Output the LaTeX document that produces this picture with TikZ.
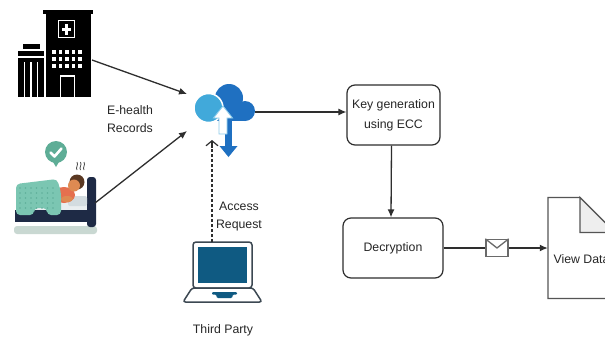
\documentclass[tikz,border=0pt]{standalone}
\usepackage{fontspec}
\setmainfont{Liberation Sans}
\usetikzlibrary{arrows.meta}

\definecolor{linegray}{HTML}{2E2E2E}
\definecolor{envgray}{HTML}{6A6A6A}
\definecolor{cloudlight}{HTML}{41A9DA}
\definecolor{clouddark}{HTML}{1F70C1}
\definecolor{cloudedge}{HTML}{8CCBEA}
\definecolor{screenblue}{HTML}{0F5A82}
\definecolor{laptopedge}{HTML}{3C4852}
\definecolor{bedframe}{HTML}{1E2A45}
\definecolor{blanket}{HTML}{7BC6B2}
\definecolor{blanketdot}{HTML}{5FAF9A}
\definecolor{checkgreen}{HTML}{5EAD96}
\definecolor{floorgray}{HTML}{C9D8D2}
\definecolor{pillow}{HTML}{D3DCE0}
\definecolor{mattress}{HTML}{E9EEF0}
\definecolor{skin}{HTML}{DE8A52}
\definecolor{hair}{HTML}{5A3822}
\definecolor{shirt}{HTML}{E5704F}
\definecolor{foldgray}{HTML}{EEEEEE}

\begin{document}
\begin{tikzpicture}[x=1pt,y=-1pt,
  txt/.style={font=\fontsize{12.3}{17.5}\selectfont, text=black!85, align=center, inner sep=0},
  proc/.style={draw=linegray, fill=white, line width=1.2pt, rounded corners=8pt,
               font=\fontsize{12.3}{20}\selectfont, text=black!85, align=center},
  conn/.style={draw=linegray, line width=1.3pt},
  tip/.style={-{Latex[length=8pt,width=7pt]}},
  openTip/.style={-{Straight Barb[length=5pt,width=12pt]}}]

\clip (0,0) rectangle (605,338);
\fill[white] (0,0) rectangle (605,338);

% ---------- hospital ----------
\begin{scope}
  \fill[black] (43,10) rectangle (93,14);
  \fill[black] (46,14) rectangle (91,97);
  \draw[white, line width=1.3pt] (58.5,20.5) rectangle (74.5,37.5);
  \fill[white] (62,28) rectangle (71,30.5);
  \fill[white] (65.3,24) rectangle (67.7,34.5);
  \foreach \i in {0,...,4}
    \foreach \j in {0,1,2}
      \fill[white] ({52+6.6*\i},{50+7*\j}) rectangle ++(3.6,3.6);
  \draw[white, line width=1.3pt] (60.5,97) -- (60.5,76) -- (74.5,76) -- (74.5,97);
  \fill[black] (23,44) rectangle (40,49);
  \fill[black] (18,51) rectangle (44,97);
  \draw[white, line width=1.2pt] (18,57) -- (44,57);
  \foreach \x in {24.5,31,37.5}
    \draw[white, line width=1.3pt] (\x,62) -- (\x,97);
\end{scope}
\coordinate (hospOut) at (92,60);

% ---------- patient in bed ----------
\begin{scope}
  \fill[checkgreen] (56,152) circle (11);
  \fill[checkgreen] (52.5,161) -- (56,167) -- (59.5,161) -- cycle;
  \draw[white, line width=2.6pt, line cap=round, line join=round]
    (50.5,152.5) -- (54.5,156.5) -- (61.5,148.5);
  \foreach \x in {77,80.5,84}
    \draw[black!70, line width=0.8pt]
      (\x,170) .. controls (\x-1.8,167.5) and (\x+1.8,165) .. (\x,162);
  \fill[floorgray, rounded corners=3pt] (14,226) rectangle (97,234);
  \fill[bedframe, rounded corners=3pt] (87,177) rectangle (96,227);
  \fill[bedframe] (15,210) rectangle (90,222);
  \fill[mattress] (17,203) rectangle (87,210);
  \fill[pillow, rounded corners=2pt] (68,196) rectangle (87,206);
  \fill[shirt] (64,195) ellipse (11 and 8);
  \fill[hair] (77,182) circle (7.5);
  \fill[skin] (74,185.5) circle (6);
  \fill[skin] (67,199) ellipse (6 and 3);
  \fill[blanket, rounded corners=4pt]
    (16,215) -- (16,184) -- (57,179) -- (61,192) -- (61,215) -- (47,215)
    -- (47,208) -- (34,208) -- (34,215) -- cycle;
  \foreach \i in {0,...,6}
    \foreach \j in {0,...,4}
      \fill[blanketdot] ({20+5.5*\i},{188+5*\j}) circle (0.9);
\end{scope}
\coordinate (bedOut) at (95,203);

% ---------- cloud storage ----------
\begin{scope}
  \fill[clouddark] (229,98) circle (14);
  \fill[clouddark] (245,111) circle (10);
  \fill[clouddark] (215,104) rectangle (245,121);
  \fill[cloudlight, draw=white, line width=1.5pt] (208.5,108) circle (14.5);
  \fill[clouddark] (225,118) rectangle (232,147);
  \fill[clouddark] (219.5,146) -- (237.5,146) -- (228.5,157) -- cycle;
  \fill[white, draw=cloudedge, line width=0.9pt]
    (223,106) -- (232.5,118) -- (227,118) -- (227,134)
    -- (219,134) -- (219,118) -- (213.5,118) -- cycle;
\end{scope}
\coordinate (cloudInA) at (187,94);
\coordinate (cloudInB) at (187,131);
\coordinate (cloudOut) at (255,112);
\coordinate (cloudReq) at (212,140);

\draw[conn, tip] (hospOut) -- (cloudInA);
\draw[conn, tip] (bedOut) -- (cloudInB);
\node[txt] (ehr) at (130,119) {E-health\\Records};

% ---------- third party laptop ----------
\begin{scope}
  \draw[laptopedge, fill=white, line width=1.5pt, rounded corners=3pt]
    (193,242) rectangle (252,288);
  \fill[screenblue] (198,247) rectangle (247,283);
  \draw[laptopedge, fill=white, line width=1.5pt, rounded corners=2.5pt]
    (192,288) -- (253,288) -- (262,302) -- (183,302) -- cycle;
  \fill[screenblue, rounded corners=1pt]
    (212,292) -- (237,292) -- (237,294.5) -- (233,294.5) -- (232,298)
    -- (217,298) -- (216,294.5) -- (212,294.5) -- cycle;
\end{scope}
\coordinate (laptopTop) at (212,242);
\draw[conn, line width=1.2pt, dash pattern=on 3pt off 2pt] (laptopTop) -- (212,147);
\draw[conn, line width=1.2pt, openTip] (212,148) -- (cloudReq);
\node[txt] (req) at (239,216.5) {Access\\Request};
\node[txt] (tp) at (223,330) {Third Party};

% ---------- processing chain ----------
\node[proc, minimum width=93pt, minimum height=60pt] (keygen) at (393.5,115)
  {Key generation\\using ECC};
\node[proc, minimum width=100pt, minimum height=60pt] (decrypt) at (393,248)
  {Decryption};
\draw[conn, tip] (cloudOut) -- (keygen.west |- cloudOut);
\draw[conn, tip] ([xshift=-2pt]keygen.south) -- ([xshift=-2pt]decrypt.north);

\node[draw=envgray, fill=white, line width=1.3pt, minimum width=22pt,
      minimum height=17pt, inner sep=0] (env) at (497,248) {};
\draw[envgray, line width=1.3pt] (env.north west) -- (env.center) -- (env.north east);

% ---------- document ----------
\node[minimum width=67pt, minimum height=101pt, inner sep=0] (doc) at (581.5,248) {};
\draw[envgray!80!black, fill=white, line width=1.3pt]
  (548,197.5) -- (580,197.5) -- (615,232.5) -- (615,298.5) -- (548,298.5) -- cycle;
\draw[envgray!80!black, fill=foldgray, line width=1.3pt]
  (580,197.5) -- (580,232.5) -- (615,232.5) -- cycle;
\node[txt] (vd) at (581.5,259) {View Data};

\draw[conn] (decrypt.east) -- (env.west);
\draw[conn, tip] (env.east) -- (doc.west);
\end{tikzpicture}
\end{document}
